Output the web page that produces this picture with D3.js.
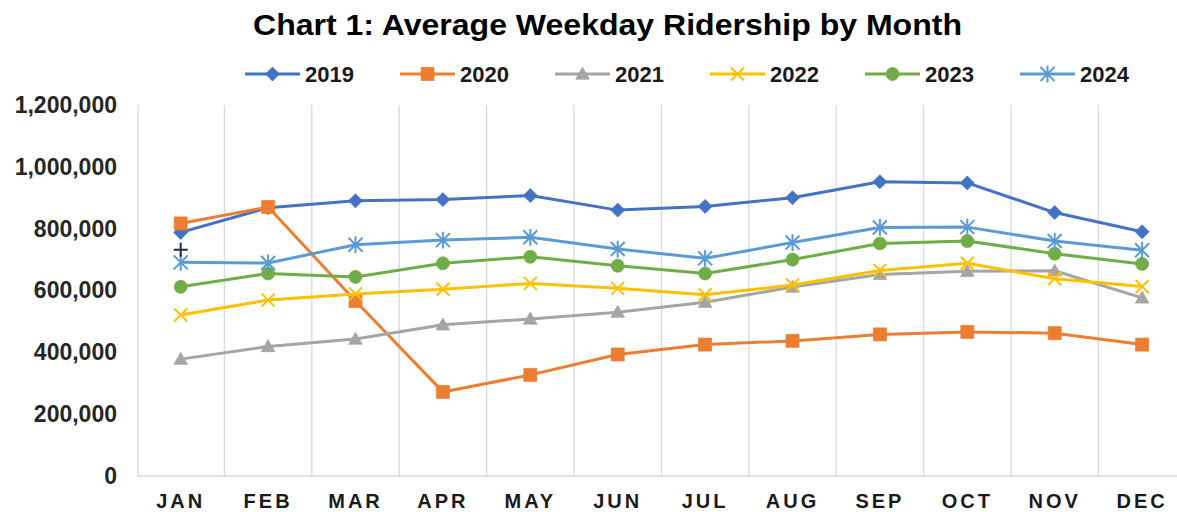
<!DOCTYPE html>
<html>
<head>
<meta charset="utf-8">
<script src="https://cdn.jsdelivr.net/npm/d3@7"></script>
<style>
  body { margin: 0; background: #fff; }
  svg { display: block; font-family: Arial, "Liberation Sans", sans-serif; }
</style>
</head>
<body>
<svg id="chart" width="1177" height="512"></svg>
<script>
const months = ['JAN', 'FEB', 'MAR', 'APR', 'MAY', 'JUN', 'JUL', 'AUG', 'SEP', 'OCT', 'NOV', 'DEC']
const years = ['2019', '2020', '2021', '2022', '2023', '2024']
const yTicks = [0, 200000, 400000, 600000, 800000, 1000000, 1200000]

const v2019 = [788000, 868000, 890000, 894000, 907000, 860000, 872000, 900000, 952000, 948000, 852000, 790000]
const v2020 = [817000, 870000, 566000, 272000, 327000, 393000, 425000, 437000, 458000, 466000, 462000, 425000]
const v2021 = [378000, 419000, 443000, 489000, 508000, 530000, 562000, 611000, 652000, 662000, 664000, 576000]
const v2022 = [521000, 569000, 589000, 604000, 623000, 607000, 586000, 618000, 665000, 688000, 638000, 613000]
const v2023 = [612000, 655000, 644000, 688000, 709000, 680000, 655000, 700000, 752000, 760000, 719000, 686000]
const v2024 = [691000, 689000, 748000, 763000, 772000, 734000, 704000, 755000, 804000, 805000, 760000, 730000]
// stray marker sitting on JAN (no legend entry)
const janMark = [732000]

const seriesValues = [v2019, v2020, v2021, v2022, v2023, v2024]
const colors = ['#4472C4', '#ED7D31', '#A5A5A5', '#FFC000', '#70AD47', '#5B9BD5']
const shapes = ['diamond', 'square', 'triangle', 'x', 'circle', 'star']

const series = years.map((y, i) => ({
  name: y,
  color: colors[i],
  shape: shapes[i],
  values: seriesValues[i].map((v, j) => ({ month: months[j], value: v }))
}))

const svg = d3.select('#chart')

const left = 137, step = 87.4
const x = d3.scaleBand().domain(months).range([left, left + step * months.length])
const y = d3.scaleLinear().domain([0, 1200000]).range([476, 105])
const cx = m => x(m) + x.bandwidth() / 2

// marker paths centered at 0,0
const markerPath = (shape, s) => {
  switch (shape) {
    case 'diamond': return `M0,${-s}L${s},0L0,${s}L${-s},0Z`
    case 'square': return `M${-s},${-s}H${s}V${s}H${-s}Z`
    case 'triangle': return `M0,${-s * 1.05}L${s * 1.05},${s * 0.8}L${-s * 1.05},${s * 0.8}Z`
    case 'circle': return d3.symbol(d3.symbolCircle, Math.PI * s * s)()
    case 'x': return `M${-s},${-s}L${s},${s}M${s},${-s}L${-s},${s}`
    case 'star': return `M${-s},${-s}L${s},${s}M${s},${-s}L${-s},${s}M0,${-s * 1.2}V${s * 1.2}`
    case 'plus': return `M${-s},0H${s}M0,${-s}V${s}`
  }
}
const markerSize = { diamond: 7, square: 6.5, triangle: 6.5, circle: 6.5, x: 6.5, star: 7 }
const stroked = { x: true, star: true, plus: true }

const drawMarker = (sel, d, color) => {
  const p = sel.append('path').attr('d', markerPath(d, markerSize[d] || 7))
  if (stroked[d]) p.attr('fill', 'none').attr('stroke', color).attr('stroke-width', 2)
  else p.attr('fill', color).attr('stroke', color).attr('stroke-width', 0.75)
  return p
}

// vertical gridlines at category boundaries
const grid = svg.append('g')
months.forEach((m, i) => {
  if (i === 0) return
  grid.append('line')
    .attr('x1', x(m)).attr('x2', x(m))
    .attr('y1', y(1200000)).attr('y2', y(0))
    .attr('stroke', '#d9d9d9').attr('stroke-width', 1.3)
})
grid.append('line')
  .attr('x1', x.range()[1]).attr('x2', x.range()[1])
  .attr('y1', y(1200000)).attr('y2', y(0))
  .attr('stroke', '#d9d9d9').attr('stroke-width', 1.3)

// axis lines
svg.append('line')
  .attr('x1', left + 1).attr('x2', left + 1)
  .attr('y1', y(1200000)).attr('y2', y(0))
  .attr('stroke', '#d9d9d9').attr('stroke-width', 1.3)
svg.append('line')
  .attr('x1', left).attr('x2', x.range()[1])
  .attr('y1', y(0)).attr('y2', y(0))
  .attr('stroke', '#d9d9d9').attr('stroke-width', 1.3)

// y axis labels
const yAxis = svg.append('g')
  .attr('transform', `translate(${left},0)`)
  .call(d3.axisLeft(y).tickValues(yTicks).tickFormat(d3.format(',')).tickSize(0).tickPadding(20))
yAxis.select('.domain').remove()
yAxis.selectAll('text')
  .attr('font-size', 23).attr('font-weight', 'bold').attr('fill', '#262626')
  .attr('font-family', 'Arial, "Liberation Sans", sans-serif')

// x axis labels
const xAxis = svg.append('g')
  .attr('transform', `translate(0,${y(0)})`)
  .call(d3.axisBottom(x).tickSize(0).tickPadding(18))
xAxis.select('.domain').remove()
xAxis.selectAll('text')
  .attr('font-size', 20).attr('font-weight', 'bold').attr('fill', '#1a1a1a')
  .attr('letter-spacing', 3)
  .attr('font-family', 'Arial, "Liberation Sans", sans-serif')

// lines + markers
const line = d3.line().x(d => cx(d.month)).y(d => y(d.value))
const plot = svg.append('g')
series.forEach(s => {
  plot.append('path')
    .datum(s.values)
    .attr('d', line)
    .attr('fill', 'none')
    .attr('stroke', s.color)
    .attr('stroke-width', 3)
    .attr('stroke-linejoin', 'round')
  s.values.forEach(d => {
    const g = plot.append('g').attr('transform', `translate(${cx(d.month)},${y(d.value)})`)
    drawMarker(g, s.shape, s.color)
  })
})

// stray plus on JAN
janMark.forEach(v => {
  plot.append('path')
    .attr('transform', `translate(${cx('JAN')},${y(v)})`)
    .attr('d', markerPath('plus', 7))
    .attr('fill', 'none').attr('stroke', '#1f2a44').attr('stroke-width', 2)
})

// legend
const legend = svg.append('g').attr('transform', 'translate(245,74)')
series.forEach((s, i) => {
  const g = legend.append('g').attr('transform', `translate(${i * 155},0)`)
  g.append('line').attr('x1', 0).attr('x2', 55).attr('y1', 0).attr('y2', 0)
    .attr('stroke', s.color).attr('stroke-width', 3)
  drawMarker(g.append('g').attr('transform', 'translate(27.5,0)'), s.shape, s.color)
  g.append('text')
    .attr('x', 60).attr('y', 0).attr('dy', '0.36em')
    .attr('font-size', 22).attr('font-weight', 'bold').attr('fill', '#1a1a1a')
    .text(s.name)
})

// title
svg.append('text')
  .attr('x', 253).attr('y', 25).attr('dy', '0.36em')
  .attr('font-size', 29).attr('font-weight', 'bold').attr('fill', '#000')
  .attr('textLength', 709).attr('lengthAdjust', 'spacingAndGlyphs')
  .text('Chart 1: Average Weekday Ridership by Month')
</script>
</body>
</html>
